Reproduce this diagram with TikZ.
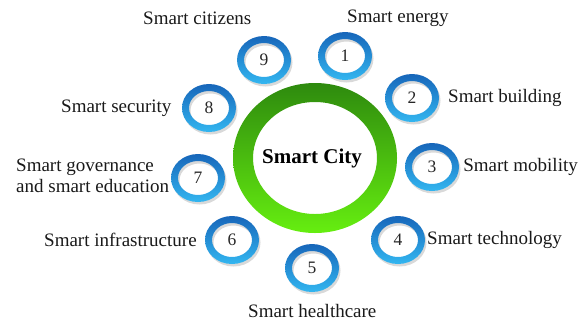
\documentclass[tikz,border=0pt]{standalone}
\usepackage{fontspec}
\setmainfont{Liberation Serif}
\usetikzlibrary{shapes.geometric}
\definecolor{bluedark}{HTML}{1766BA}
\definecolor{bluelight}{HTML}{33B6F0}
\definecolor{greendark}{HTML}{2E8A0E}
\definecolor{greenlight}{HTML}{66EE10}
\tikzset{
  numtext/.style={font=\fontsize{17.5}{17.5}\selectfont, text=black!85},
  lbl/.style={font=\fontsize{19}{21}\selectfont, text=black!90, inner sep=0pt},
}
\begin{document}
\begin{tikzpicture}[x=1pt,y=-1pt]
\useasboundingbox (0,0) rectangle (580,322);
% green ring
\shade[top color=greendark, bottom color=greenlight, even odd rule]
  (315,158) ellipse [x radius=82, y radius=75]
  (315,158) ellipse [x radius=62, y radius=56];
\node[font=\bfseries\fontsize{21}{21}\selectfont] (city) at (312,158) {Smart City};
% blue rings
\foreach \n/\x/\y in {1/345/56, 2/412/98, 3/432/167, 4/398/240, 5/312/268, 6/232/240, 7/198/178, 8/209/108, 9/264/60}{
  \fill[black!15, even odd rule] (\x+1.5,\y+2.5) ellipse [x radius=27, y radius=24]
     (\x+1.5,\y+2.5) ellipse [x radius=20, y radius=17];
  \shade[top color=bluedark, bottom color=bluelight, even odd rule]
     (\x,\y) ellipse [x radius=27, y radius=24]
     (\x,\y) ellipse [x radius=20, y radius=17];
  \node[numtext] (c\n) at (\x,\y) {\n};
}
% labels
\node[lbl, anchor=west] (l1) at (347,18) {Smart energy};
\node[lbl, anchor=west] (l9) at (143,18) {Smart citizens};
\node[lbl, anchor=west] (l2) at (448,98) {Smart building};
\node[lbl, anchor=east] (l3) at (578,167) {Smart mobility};
\node[lbl, anchor=west] (l4) at (427,240) {Smart technology};
\node[lbl, anchor=west] (l5) at (248,311) {Smart healthcare};
\node[lbl, anchor=west] (l6) at (44,240) {Smart infrastructure};
\node[lbl, anchor=west] (l8) at (61,108) {Smart security};
\node[lbl, anchor=west, align=left] (l7) at (16,176) {Smart governance\\and smart education};
\end{tikzpicture}
\end{document}
